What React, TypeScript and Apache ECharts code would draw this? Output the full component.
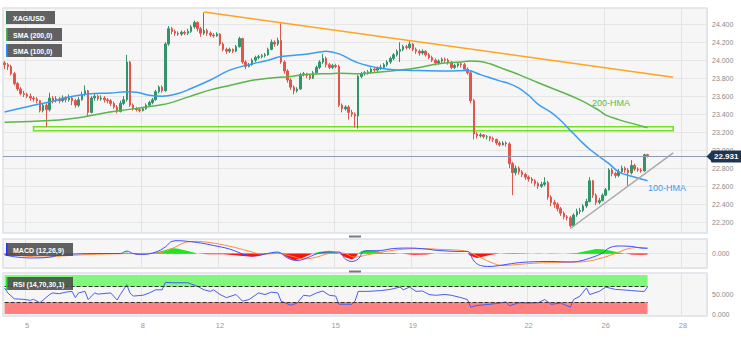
import React, { useEffect, useRef } from "react";
import * as echarts from "echarts";

const N_CATS = 219;
const dayLabelIdx = [7, 43, 67, 103, 127, 163, 187, 211];
const dayLabelText = ["5", "8", "12", "15", "19", "22", "26", "28"];

// [open, close, low, high]
const candles: number[][] = [
  [23.97, 23.95, 23.9, 23.99], [23.95, 23.93, 23.89, 23.97], [23.93, 23.85, 23.83, 23.95], [23.85, 23.74, 23.72, 23.87],
  [23.74, 23.68, 23.66, 23.76], [23.68, 23.63, 23.61, 23.7], [23.63, 23.62, 23.59, 23.66], [23.62, 23.6, 23.58, 23.64],
  [23.6, 23.58, 23.55, 23.63], [23.58, 23.57, 23.54, 23.6], [23.57, 23.55, 23.52, 23.59], [23.55, 23.44, 23.42, 23.56],
  [23.44, 23.5, 23.42, 23.52], [23.5, 23.45, 23.26, 23.52], [23.45, 23.58, 23.43, 23.64], [23.58, 23.55, 23.52, 23.6],
  [23.55, 23.57, 23.53, 23.6], [23.57, 23.55, 23.52, 23.59], [23.55, 23.58, 23.53, 23.61], [23.58, 23.56, 23.53, 23.6],
  [23.56, 23.58, 23.54, 23.62], [23.58, 23.55, 23.5, 23.6], [23.55, 23.5, 23.47, 23.57], [23.5, 23.56, 23.48, 23.59],
  [23.56, 23.62, 23.55, 23.65], [23.62, 23.66, 23.6, 23.72], [23.66, 23.42, 23.37, 23.67], [23.42, 23.58, 23.41, 23.6],
  [23.58, 23.6, 23.55, 23.63], [23.6, 23.57, 23.55, 23.62], [23.57, 23.58, 23.55, 23.61], [23.58, 23.56, 23.53, 23.6],
  [23.56, 23.55, 23.52, 23.58], [23.55, 23.52, 23.49, 23.57], [23.52, 23.48, 23.46, 23.54], [23.48, 23.43, 23.41, 23.5],
  [23.43, 23.52, 23.42, 23.55], [23.52, 23.56, 23.5, 23.6], [23.56, 23.98, 23.54, 24.06], [23.98, 23.5, 23.48, 23.99],
  [23.5, 23.46, 23.44, 23.52], [23.46, 23.45, 23.43, 23.48], [23.45, 23.44, 23.42, 23.47], [23.44, 23.46, 23.43, 23.48],
  [23.46, 23.5, 23.45, 23.52], [23.5, 23.53, 23.48, 23.55], [23.53, 23.56, 23.51, 23.58], [23.56, 23.65, 23.55, 23.67],
  [23.65, 23.7, 23.63, 23.72], [23.7, 23.66, 23.64, 23.72], [23.66, 24.18, 23.65, 24.2], [24.18, 24.35, 24.16, 24.38],
  [24.35, 24.32, 24.29, 24.37], [24.32, 24.3, 24.27, 24.34], [24.3, 24.29, 24.27, 24.32], [24.29, 24.31, 24.27, 24.33],
  [24.31, 24.3, 24.28, 24.33], [24.3, 24.32, 24.28, 24.35], [24.32, 24.37, 24.3, 24.39], [24.37, 24.42, 24.35, 24.44],
  [24.42, 24.35, 24.32, 24.43], [24.35, 24.3, 24.26, 24.37], [24.3, 24.33, 24.28, 24.53], [24.33, 24.3, 24.27, 24.35],
  [24.3, 24.28, 24.26, 24.32], [24.28, 24.27, 24.25, 24.3], [24.27, 24.29, 24.26, 24.31], [24.29, 24.18, 24.16, 24.3],
  [24.18, 24.12, 24.1, 24.2], [24.12, 24.1, 24.07, 24.14], [24.1, 24.12, 24.08, 24.14], [24.12, 24.1, 24.08, 24.13],
  [24.1, 24.15, 24.09, 24.17], [24.15, 24.24, 24.14, 24.26], [24.24, 23.98, 23.96, 24.25], [23.98, 23.93, 23.9, 24.0],
  [23.93, 23.95, 23.92, 23.97], [23.95, 24.0, 23.94, 24.02], [24.0, 24.03, 23.98, 24.05], [24.03, 24.04, 24.01, 24.06],
  [24.04, 24.05, 24.02, 24.07], [24.05, 24.06, 24.03, 24.08], [24.06, 24.12, 24.05, 24.14], [24.12, 24.2, 24.11, 24.23],
  [24.2, 24.18, 24.15, 24.22], [24.18, 24.22, 24.16, 24.25], [24.22, 23.98, 23.96, 24.41], [23.98, 23.88, 23.85, 24.0],
  [23.88, 23.78, 23.75, 23.9], [23.78, 23.7, 23.67, 23.8], [23.7, 23.66, 23.62, 23.72], [23.66, 23.68, 23.64, 23.7],
  [23.68, 23.84, 23.67, 23.86], [23.84, 23.85, 23.82, 23.87], [23.85, 23.83, 23.8, 23.86], [23.83, 23.8, 23.78, 23.85],
  [23.8, 23.86, 23.79, 23.88], [23.86, 23.92, 23.85, 23.94], [23.92, 23.98, 23.9, 24.0], [23.98, 24.02, 23.96, 24.07],
  [24.02, 23.95, 23.92, 24.04], [23.95, 23.92, 23.9, 23.97], [23.92, 23.94, 23.9, 23.96], [23.94, 23.93, 23.91, 23.96],
  [23.93, 23.5, 23.48, 23.95], [23.5, 23.46, 23.42, 23.52], [23.46, 23.48, 23.44, 23.5], [23.48, 23.42, 23.34, 23.5],
  [23.42, 23.4, 23.37, 23.45], [23.4, 23.38, 23.25, 23.42], [23.38, 23.82, 23.24, 23.84], [23.82, 23.85, 23.8, 23.87],
  [23.85, 23.86, 23.83, 23.88], [23.86, 23.87, 23.84, 23.89], [23.87, 23.9, 23.85, 23.92], [23.9, 23.89, 23.87, 23.92],
  [23.89, 23.91, 23.87, 23.93], [23.91, 23.92, 23.89, 23.95], [23.92, 23.95, 23.9, 23.97], [23.95, 23.98, 23.93, 24.0],
  [23.98, 24.02, 23.96, 24.04], [24.02, 24.06, 24.0, 24.08], [24.06, 24.1, 24.04, 24.12], [24.1, 24.12, 23.98, 24.2],
  [24.12, 24.15, 24.1, 24.17], [24.15, 24.14, 24.12, 24.17], [24.14, 24.18, 24.12, 24.21], [24.18, 24.12, 24.1, 24.19],
  [24.12, 24.1, 24.07, 24.14], [24.1, 24.08, 24.05, 24.12], [24.08, 24.1, 24.06, 24.12], [24.1, 24.06, 24.04, 24.11],
  [24.06, 24.03, 24.01, 24.08], [24.03, 24.0, 23.98, 24.05], [24.0, 23.97, 23.94, 24.02], [23.97, 23.99, 23.95, 24.01],
  [23.99, 24.01, 23.97, 24.03], [24.01, 24.0, 23.97, 24.03], [24.0, 23.98, 23.95, 24.02], [23.98, 23.92, 23.9, 23.99],
  [23.92, 23.94, 23.9, 23.96], [23.94, 23.96, 23.92, 23.98], [23.96, 23.95, 23.92, 23.98], [23.95, 23.9, 23.88, 23.97],
  [23.9, 23.86, 23.84, 23.92], [23.86, 23.55, 23.52, 23.88], [23.55, 23.18, 23.12, 23.57], [23.18, 23.16, 23.13, 23.2],
  [23.16, 23.17, 23.14, 23.19], [23.17, 23.15, 23.13, 23.18], [23.15, 23.15, 23.12, 23.17], [23.15, 23.13, 23.1, 23.16],
  [23.13, 23.12, 23.09, 23.15], [23.12, 23.08, 23.06, 23.13], [23.08, 23.06, 23.04, 23.1], [23.06, 23.08, 23.05, 23.1],
  [23.08, 23.07, 23.04, 23.1], [23.07, 22.85, 22.8, 23.09], [22.85, 22.75, 22.5, 22.87], [22.75, 22.8, 22.72, 22.83],
  [22.8, 22.76, 22.73, 22.82], [22.76, 22.73, 22.7, 22.78], [22.73, 22.7, 22.67, 22.75], [22.7, 22.68, 22.65, 22.72],
  [22.68, 22.66, 22.63, 22.7], [22.66, 22.63, 22.6, 22.68], [22.63, 22.6, 22.57, 22.65], [22.6, 22.62, 22.58, 22.65],
  [22.62, 22.64, 22.6, 22.7], [22.64, 22.48, 22.45, 22.66], [22.48, 22.42, 22.38, 22.5], [22.42, 22.4, 22.36, 22.45],
  [22.4, 22.35, 22.32, 22.42], [22.35, 22.3, 22.27, 22.37], [22.3, 22.26, 22.23, 22.32], [22.26, 22.25, 22.22, 22.28],
  [22.25, 22.16, 22.14, 22.27], [22.16, 22.28, 22.15, 22.3], [22.28, 22.32, 22.26, 22.35], [22.32, 22.33, 22.29, 22.36],
  [22.33, 22.38, 22.31, 22.4], [22.38, 22.43, 22.36, 22.46], [22.43, 22.66, 22.42, 22.7], [22.66, 22.5, 22.47, 22.67],
  [22.5, 22.42, 22.39, 22.52], [22.42, 22.44, 22.4, 22.47], [22.44, 22.5, 22.43, 22.52], [22.5, 22.56, 22.49, 22.58],
  [22.56, 22.78, 22.55, 22.8], [22.78, 22.74, 22.71, 22.8], [22.74, 22.72, 22.69, 22.76], [22.72, 22.76, 22.7, 22.79],
  [22.76, 22.8, 22.74, 22.83], [22.8, 22.78, 22.75, 22.82], [22.78, 22.75, 22.6, 22.8], [22.75, 22.83, 22.73, 22.89],
  [22.83, 22.79, 22.77, 22.85], [22.79, 22.78, 22.76, 22.81], [22.78, 22.77, 22.75, 22.8], [22.77, 22.95, 22.76, 22.96],
  [22.95, 22.931, 22.92, 22.96],
];

const lastPrice = 22.931;

// [bar index, value]
const sma100: number[][] = [
  [0, 23.425], [9, 23.5], [14, 23.535], [20, 23.59], [26, 23.625], [33, 23.635], [38, 23.65], [41, 23.645], [45, 23.61],
  [49, 23.6], [54, 23.63], [57, 23.67], [64, 23.78], [70, 23.89], [76, 23.95], [82, 24.0], [86, 24.04], [92, 24.06],
  [98, 24.09], [100, 24.1], [104, 24.07], [110, 23.97], [117, 23.91], [123, 23.89], [129, 23.885], [138, 23.88],
  [144, 23.885], [148, 23.84], [154, 23.77], [157, 23.74], [160, 23.69], [163, 23.61], [166, 23.51], [170, 23.42],
  [173, 23.33], [176, 23.22], [179, 23.11], [182, 23.01], [185, 22.93], [188, 22.85], [191, 22.76], [195, 22.71],
  [198, 22.68], [200, 22.66],
];
const sma200: number[][] = [
  [0, 23.31], [8, 23.32], [17, 23.335], [23, 23.36], [29, 23.4], [36, 23.44], [42, 23.47], [48, 23.5], [51, 23.52],
  [57, 23.59], [64, 23.67], [70, 23.72], [76, 23.77], [82, 23.8], [89, 23.82], [95, 23.845], [101, 23.85], [104, 23.855],
  [110, 23.85], [117, 23.87], [123, 23.89], [129, 23.92], [135, 23.96], [142, 23.98], [145, 23.99], [148, 23.985],
  [151, 23.96], [154, 23.92], [157, 23.88], [160, 23.84], [166, 23.75], [173, 23.65], [179, 23.56], [185, 23.44],
  [187, 23.39], [191, 23.34], [198, 23.27], [200, 23.25],
];
const resistanceLine: number[][] = [[62, 24.535], [208, 23.81]];
const risingSupport: number[][] = [[176, 22.13], [208, 22.97]];
const supportZoneX = [9, 208];
const supportZoneY = [23.215, 23.26];

const macdLine: number[][] = [
  [0, -0.012], [4, -0.03], [9, -0.037], [14, -0.03], [17, -0.012], [22, -0.004], [29, 0], [36, 0], [38, 0.02], [40, 0],
  [43, -0.008], [47, 0.012], [50, 0.054], [52, 0.1], [54, 0.106], [57, 0.1], [61, 0.087], [65, 0.066], [70, 0.037],
  [75, -0.012], [78, -0.02], [81, -0.004], [85, 0.012], [88, -0.037], [91, -0.058], [94, -0.037], [97, -0.004],
  [101, 0.012], [104, 0.012], [106, -0.045], [108, -0.066], [110, -0.045], [112, 0.02], [117, 0.025], [121, 0.041],
  [126, 0.045], [131, 0.037], [135, 0.025], [142, 0.017], [144, 0.017], [146, -0.062], [148, -0.099], [151, -0.107],
  [154, -0.099], [159, -0.079], [163, -0.07], [170, -0.066], [176, -0.07], [179, -0.062], [183, -0.03], [186, 0.004],
  [188, 0.045], [191, 0.062], [195, 0.058], [198, 0.045], [200, 0.041],
];
const signalLine: number[][] = [
  [0, -0.005], [6, -0.02], [12, -0.03], [18, -0.02], [25, -0.01], [35, -0.002], [42, 0], [48, 0.005], [52, 0.04],
  [56, 0.09], [59, 0.1], [64, 0.09], [70, 0.06], [76, 0.02], [80, -0.005], [85, 0], [89, -0.02], [93, -0.045],
  [97, -0.03], [101, 0], [105, 0.005], [109, -0.03], [113, -0.01], [118, 0.015], [124, 0.035], [130, 0.04],
  [136, 0.033], [143, 0.022], [147, -0.02], [151, -0.07], [155, -0.1], [158, -0.095], [165, -0.08], [175, -0.072],
  [181, -0.065], [186, -0.035], [190, 0], [194, 0.04], [198, 0.05], [200, 0.048],
];
const macdHist: number[][] = [
  [0, -0.012], [3, -0.008], [6, -0.003], [10, -0.002], [15, 0.002], [20, -0.003], [25, 0.002], [30, -0.002], [36, 0.002],
  [38, 0.008], [41, -0.008], [44, -0.004], [47, 0.008], [50, 0.03], [52, 0.045], [54, 0.04], [57, 0.02], [60, 0],
  [63, -0.006], [68, -0.006], [71, -0.012], [74, -0.02], [77, -0.027], [80, -0.015], [82, 0], [84, 0.01], [86, 0],
  [88, -0.03], [90, -0.055], [92, -0.045], [94, -0.02], [96, 0], [98, 0.015], [101, 0.023], [103, 0.012], [104, 0],
  [106, -0.03], [108, -0.05], [109, -0.035], [110, 0], [111, 0.02], [113, 0.03], [116, 0.02], [118, 0.005], [121, 0.004],
  [124, -0.003], [127, -0.01], [131, -0.008], [134, 0], [138, 0.003], [144, 0], [145, -0.02], [147, -0.037], [149, -0.025],
  [151, -0.012], [154, 0], [158, 0.004], [162, 0.002], [166, -0.003], [170, 0.002], [174, 0], [178, 0.005], [181, 0.02],
  [184, 0.037], [186, 0.035], [189, 0.02], [191, 0.008], [193, 0], [195, -0.008], [198, -0.01], [200, -0.008],
];
const rsiLine: number[][] = [
  [0, 66.7], [1, 54], [3, 39], [6, 37.5], [8, 35], [9, 37.5], [11, 29], [12, 36], [14, 50], [15, 54], [17, 52], [19, 56],
  [21, 58], [22, 42], [23, 54], [25, 58], [26, 37], [28, 54], [29, 51], [33, 54], [35, 36], [36, 50], [38, 75], [39, 54],
  [40, 46], [43, 48], [45, 54], [47, 62], [49, 62], [50, 81], [53, 80], [57, 80], [60, 71], [62, 62], [64, 58], [65, 62],
  [67, 50], [69, 42], [72, 50], [74, 33], [76, 37], [79, 54], [81, 50], [83, 56], [85, 54], [86, 33], [89, 22.5], [91, 28],
  [93, 48], [95, 46], [97, 54], [99, 59], [101, 48], [103, 46], [104, 25], [106, 25], [108, 25], [109, 33], [110, 58],
  [113, 58], [117, 60], [120, 63], [123, 69], [124, 62], [126, 69], [128, 58], [130, 59], [132, 50], [134, 48], [137, 50],
  [139, 48], [142, 42], [144, 37], [145, 17.5], [147, 22], [151, 25], [154, 28], [156, 31], [157, 21], [160, 29], [163, 28],
  [166, 29], [168, 37], [170, 25], [173, 28], [176, 17.5], [177, 37], [179, 46], [181, 67], [182, 50], [185, 58], [187, 69],
  [190, 63], [192, 62], [195, 60], [198, 58], [199, 58], [200, 69],
];
const rsiOverbought = 70;
const rsiOversold = 30;

const FONT = "'Liberation Sans', Arial, sans-serif";
const UP = "#34936a";
const DOWN = "#e0564a";
const TAG = "#1f3552";

function legendBox(x: number, y: number, w: number, text: string, color: string) {
  return {
    type: "group",
    x,
    y,
    z: 100,
    children: [
      { type: "rect", z: 100, shape: { x: 0, y: 0, width: w, height: 13 }, style: { fill: "rgba(70,70,70,0.85)" } },
      { type: "rect", z: 101, shape: { x: 0, y: 0, width: 1.5, height: 13 }, style: { fill: color } },
      {
        type: "text",
        z: 102,
        x: 7,
        y: 7,
        style: { text, fill: "#ffffff", fontSize: 7, fontWeight: "bold", fontFamily: FONT, verticalAlign: "middle" },
      },
    ],
  };
}

export default function App() {
  const ref = useRef<HTMLDivElement>(null);
  useEffect(() => {
    document.body.style.margin = "0";
    const chart = echarts.init(ref.current!, null, { renderer: "svg" });
    const categories = Array.from({ length: N_CATS }, (_, i) => String(i));
    const gridBase = {
      left: 3,
      width: 704,
      show: true,
      backgroundColor: "#f6f6f6",
      borderColor: "#dde1e8",
      borderWidth: 1.5,
    };
    const splitX = (idx: number) => dayLabelIdx.includes(idx);
    const xAxes = [0, 1, 2].map((g) => ({
      type: "category",
      gridIndex: g,
      data: categories,
      boundaryGap: true,
      axisLine: { show: false },
      axisTick: { show: false },
      axisLabel:
        g === 2
          ? {
              show: true,
              interval: splitX,
              color: "#999",
              fontSize: 7.5,
              fontFamily: FONT,
              margin: 5,
              formatter: (_v: string, idx: number) => {
                const k = dayLabelIdx.indexOf(idx);
                return k >= 0 ? dayLabelText[k] : "";
              },
            }
          : { show: false },
      splitLine: { show: true, interval: splitX, lineStyle: { color: "#e3e3e3", width: 1 } },
    }));
    const yLabel = { color: "#8a8a8a", fontSize: 7, fontFamily: FONT, margin: 5 };
    const firstCat = categories[rsiLine[0][0]];
    const lastCat = categories[rsiLine[rsiLine.length - 1][0]];
    const option: any = {
      animation: false,
      grid: [
        { ...gridBase, top: 8, height: 225 },
        { ...gridBase, top: 239, height: 29 },
        { ...gridBase, top: 273, height: 43 },
      ],
      xAxis: xAxes,
      yAxis: [
        {
          type: "value",
          gridIndex: 0,
          position: "right",
          min: 22.08,
          max: 24.58,
          splitNumber: 12,
          axisLine: { show: false },
          axisTick: { show: false },
          axisLabel: { ...yLabel, showMinLabel: false, showMaxLabel: false, formatter: (v: number) => v.toFixed(3) },
          splitLine: { lineStyle: { color: "#e6e6e6" } },
        },
        {
          type: "value",
          gridIndex: 1,
          position: "right",
          min: -0.12,
          max: 0.12,
          interval: 0.12,
          axisLine: { show: false },
          axisTick: { show: false },
          axisLabel: { ...yLabel, showMinLabel: false, showMaxLabel: false, formatter: (v: number) => v.toFixed(3) },
          splitLine: { lineStyle: { color: "#e3e3e3" } },
        },
        {
          type: "value",
          gridIndex: 2,
          position: "right",
          min: -5,
          max: 105,
          axisLine: { show: false },
          axisTick: { show: false, customValues: [0, 50] },
          axisLabel: { ...yLabel, customValues: [0, 50], formatter: (v: number) => v.toFixed(3) },
          splitLine: { show: false },
        },
      ],
      visualMap: [
        {
          show: false,
          type: "piecewise",
          seriesIndex: 5,
          dimension: 1,
          pieces: [
            { gte: -1, lte: 0, color: "#ff1010" },
            { gt: 0, lte: 1, color: "#1ee61e" },
          ],
        },
      ],
      series: [
        {
          type: "candlestick",
          xAxisIndex: 0,
          yAxisIndex: 0,
          data: candles,
          barWidth: 2,
          itemStyle: { color: UP, color0: DOWN, borderColor: UP, borderColor0: DOWN, borderWidth: 1 },
          markLine: {
            silent: true,
            precision: 3,
            symbol: ["none", "none"],
            lineStyle: { color: "#8d9db4", type: "solid", width: 1 },
            label: {
              show: true,
              position: "end",
              distance: 4,
              formatter: (p: any) => Number(p.value).toFixed(3),
              backgroundColor: TAG,
              color: "#ffffff",
              fontSize: 8,
              fontWeight: "bold",
              fontFamily: FONT,
              padding: [2, 3],
              borderRadius: 1,
            },
            data: [{ yAxis: lastPrice }],
          },
          markArea: {
            silent: true,
            itemStyle: { color: "rgba(0,0,0,0)", borderColor: "#72e01c", borderWidth: 1.5 },
            data: [
              [
                { xAxis: categories[supportZoneX[0]], yAxis: supportZoneY[0] },
                { xAxis: categories[supportZoneX[1]], yAxis: supportZoneY[1] },
              ],
            ],
          },
        },
        {
          type: "line",
          xAxisIndex: 0,
          yAxisIndex: 0,
          data: sma200,
          smooth: 0.4,
          symbol: "none",
          lineStyle: { color: "#5cb54c", width: 1.5 },
          z: 3,
        },
        {
          type: "line",
          xAxisIndex: 0,
          yAxisIndex: 0,
          data: sma100,
          smooth: 0.4,
          symbol: "none",
          lineStyle: { color: "#3a9cf2", width: 1.5 },
          z: 3,
        },
        {
          type: "line",
          xAxisIndex: 0,
          yAxisIndex: 0,
          data: resistanceLine,
          symbol: "none",
          lineStyle: { color: "#ffa41f", width: 1.5 },
          z: 4,
        },
        {
          type: "line",
          xAxisIndex: 0,
          yAxisIndex: 0,
          data: risingSupport,
          symbol: "none",
          lineStyle: { color: "#a9a9a9", width: 1.5 },
          z: 4,
        },
        {
          type: "line",
          xAxisIndex: 1,
          yAxisIndex: 1,
          data: macdHist,
          symbol: "none",
          lineStyle: { width: 0 },
          areaStyle: { opacity: 1 },
        },
        {
          type: "line",
          xAxisIndex: 1,
          yAxisIndex: 1,
          data: signalLine,
          smooth: 0.4,
          symbol: "none",
          lineStyle: { color: "#ff8a3d", width: 1 },
        },
        {
          type: "line",
          xAxisIndex: 1,
          yAxisIndex: 1,
          data: macdLine,
          smooth: 0.4,
          symbol: "none",
          lineStyle: { color: "#3f4dff", width: 1 },
        },
        {
          type: "line",
          xAxisIndex: 2,
          yAxisIndex: 2,
          data: rsiLine,
          symbol: "none",
          lineStyle: { color: "#4a5cf0", width: 1 },
          z: 3,
          markArea: {
            silent: true,
            data: [
              [
                { xAxis: firstCat, yAxis: rsiOverbought, itemStyle: { color: "#7ff87c" } },
                { xAxis: lastCat, yAxis: 100 },
              ],
              [
                { xAxis: firstCat, yAxis: 0, itemStyle: { color: "#ff7f7f" } },
                { xAxis: lastCat, yAxis: rsiOversold },
              ],
            ],
          },
          markLine: {
            silent: true,
            symbol: ["none", "none"],
            label: { show: false },
            lineStyle: { color: "#333", type: "dashed", width: 1 },
            data: [
              [
                { xAxis: firstCat, yAxis: rsiOverbought },
                { xAxis: lastCat, yAxis: rsiOverbought },
              ],
              [
                { xAxis: firstCat, yAxis: rsiOversold },
                { xAxis: lastCat, yAxis: rsiOversold },
              ],
            ],
          },
        },
      ],
      graphic: [
        legendBox(6, 11, 49, "XAG/USD", "#2d7a5c"),
        legendBox(6, 28, 56, "SMA (200,0)", "#4cb84c"),
        legendBox(6, 44, 56, "SMA (100,0)", "#2f8ff0"),
        legendBox(6, 243, 67, "MACD (12,26,9)", "#2233ff"),
        legendBox(6, 277, 67, "RSI (14,70,30,1)", "#33dd33"),
        { type: "rect", z: 100, shape: { x: 349, y: 235.5, width: 12, height: 2 }, style: { fill: "#7a7a7a" } },
        { type: "rect", z: 100, shape: { x: 349, y: 270.5, width: 12, height: 2 }, style: { fill: "#7a7a7a" } },
        {
          type: "polygon",
          z: 100,
          shape: { points: [[706.5, 156.4], [711.5, 151.6], [711.5, 161.2]] },
          style: { fill: TAG },
        },
        {
          type: "text",
          z: 100,
          x: 592,
          y: 103,
          style: { text: "200-HMA", fill: "#5fb84e", fontSize: 9, fontFamily: FONT, verticalAlign: "middle" },
        },
        {
          type: "text",
          z: 100,
          x: 648,
          y: 188,
          style: { text: "100-HMA", fill: "#3a9cf2", fontSize: 9, fontFamily: FONT, verticalAlign: "middle" },
        },
      ],
    };
    chart.setOption(option);
    return () => chart.dispose();
  }, []);
  return <div ref={ref} style={{ width: 741, height: 354 }} />;
}
